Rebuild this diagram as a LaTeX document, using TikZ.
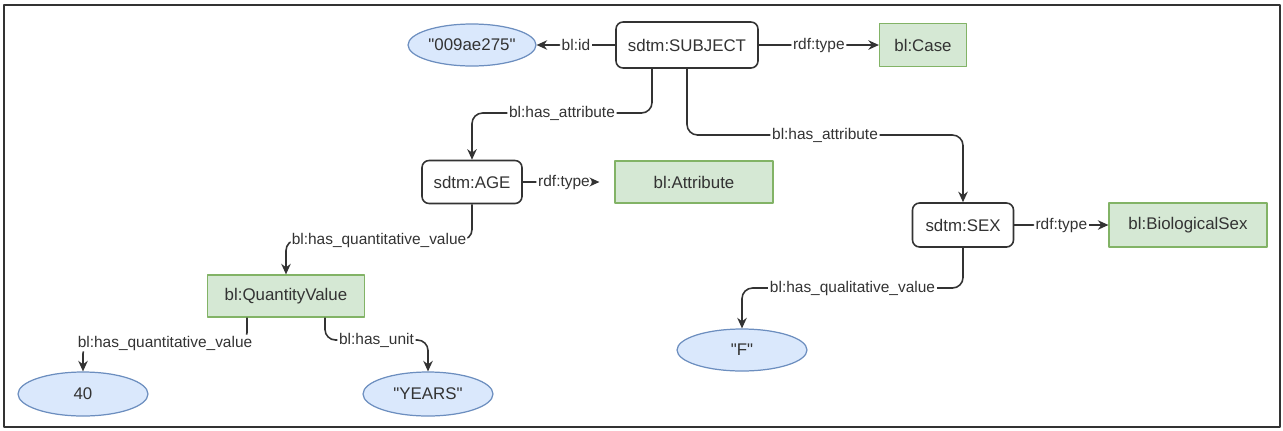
\documentclass[tikz,border=0pt]{standalone}
\usepackage{fontspec}
\setmainfont{Liberation Sans}
\usetikzlibrary{shapes.geometric,arrows.meta}
\definecolor{grfill}{HTML}{D5E8D4}
\definecolor{grline}{HTML}{82B366}
\definecolor{blfill}{HTML}{DAE8FC}
\definecolor{blline}{HTML}{6C8EBF}
\definecolor{ink}{HTML}{333333}
\newcommand{\qt}[1]{\textquotedbl#1\textquotedbl}
\begin{document}
\begin{tikzpicture}[x=0.02cm, y=-0.02cm, line join=round, >={Stealth[length=6pt,width=5.4pt]},
	res/.style={draw=ink, line width=0.9pt, rounded corners=4pt, fill=white, inner sep=0pt, text=ink, font=\fontsize{9.6}{11}\selectfont},
	cls/.style={draw=grline, line width=0.7pt, fill=grfill, inner sep=0pt, text=ink, font=\fontsize{9.6}{11}\selectfont},
	lit/.style={ellipse, draw=blline, line width=0.7pt, fill=blfill, inner sep=0pt, text=ink, font=\fontsize{9.6}{11}\selectfont},
	edge/.style={draw=ink, line width=0.9pt, ->, rounded corners=6pt},
	lbl/.style={fill=white, inner sep=1pt, text=ink, font=\fontsize{8.8}{10}\selectfont}]
	\useasboundingbox (0,0) rectangle (1283,430);
	\draw[ink, line width=0.8pt] (4,5) rectangle (1280,427);
	\node[res, minimum width=2.84cm, minimum height=0.92cm] (subj) at (687,45) {sdtm:SUBJECT};
	\node[lit, minimum width=2.56cm, minimum height=0.84cm] (id) at (472,45) {\qt{009ae275}};
	\node[cls, minimum width=1.74cm, minimum height=0.86cm] (case) at (923,45) {bl:Case};
	\node[res, minimum width=2cm, minimum height=0.86cm] (age) at (472,182) {sdtm:AGE};
	\node[cls, minimum width=3.16cm, minimum height=0.84cm] (attr) at (694,182) {bl:Attribute};
	\node[res, minimum width=2.02cm, minimum height=0.88cm] (sex) at (963,225) {sdtm:SEX};
	\node[cls, minimum width=3.16cm, minimum height=0.88cm] (biosex) at (1188,225) {bl:BiologicalSex};
	\node[cls, minimum width=3.14cm, minimum height=0.84cm] (qv) at (286,296) {bl:QuantityValue};
	\node[lit, minimum width=2.6cm, minimum height=0.88cm] (n40) at (83,394) {40};
	\node[lit, minimum width=2.6cm, minimum height=0.88cm] (years) at (428,394) {\qt{YEARS}};
	\node[lit, minimum width=2.6cm, minimum height=0.84cm] (valF) at (742,350) {\qt{F}};
	\coordinate (b1) at (472,113);
	\coordinate (b2) at (963,135);
	\coordinate (b3) at (286,240);
	\coordinate (b4) at (83,343);
	\coordinate (b5) at (428,340);
	\coordinate (b6) at (742,288);
	\draw[edge] (subj.west) -- (id.east) node[lbl,midway]{bl:id};
	\draw[edge] (subj.east) -- (case.west) node[lbl,midway]{rdf:type};
	\draw[edge] ([xshift=-0.7cm]subj.south) |- (b1) node[lbl,pos=0.75]{bl:has\_attribute} -- (age.north);
	\draw[edge] (subj.south) |- (b2) node[lbl,pos=0.75]{bl:has\_attribute} -- (sex.north);
	\draw[edge, shorten >=0.3cm] (age.east) -- (attr.west) node[lbl,pos=0.45]{rdf:type};
	\draw[edge] (age.south) |- (b3) node[lbl,pos=0.75]{bl:has\_quantitative\_value} -- (qv.north);
	\draw[edge] ([xshift=-0.78cm]qv.south) |- (b4) node[lbl,pos=0.75]{bl:has\_quantitative\_value} -- (n40.north);
	\draw[edge] ([xshift=0.78cm]qv.south) |- (b5) node[lbl,pos=0.75]{bl:has\_unit} -- (years.north);
	\draw[edge] (sex.south) |- (b6) node[lbl,pos=0.75]{bl:has\_qualitative\_value} -- (valF.north);
	\draw[edge] (sex.east) -- (biosex.west) node[lbl,midway]{rdf:type};
\end{tikzpicture}
\end{document}
